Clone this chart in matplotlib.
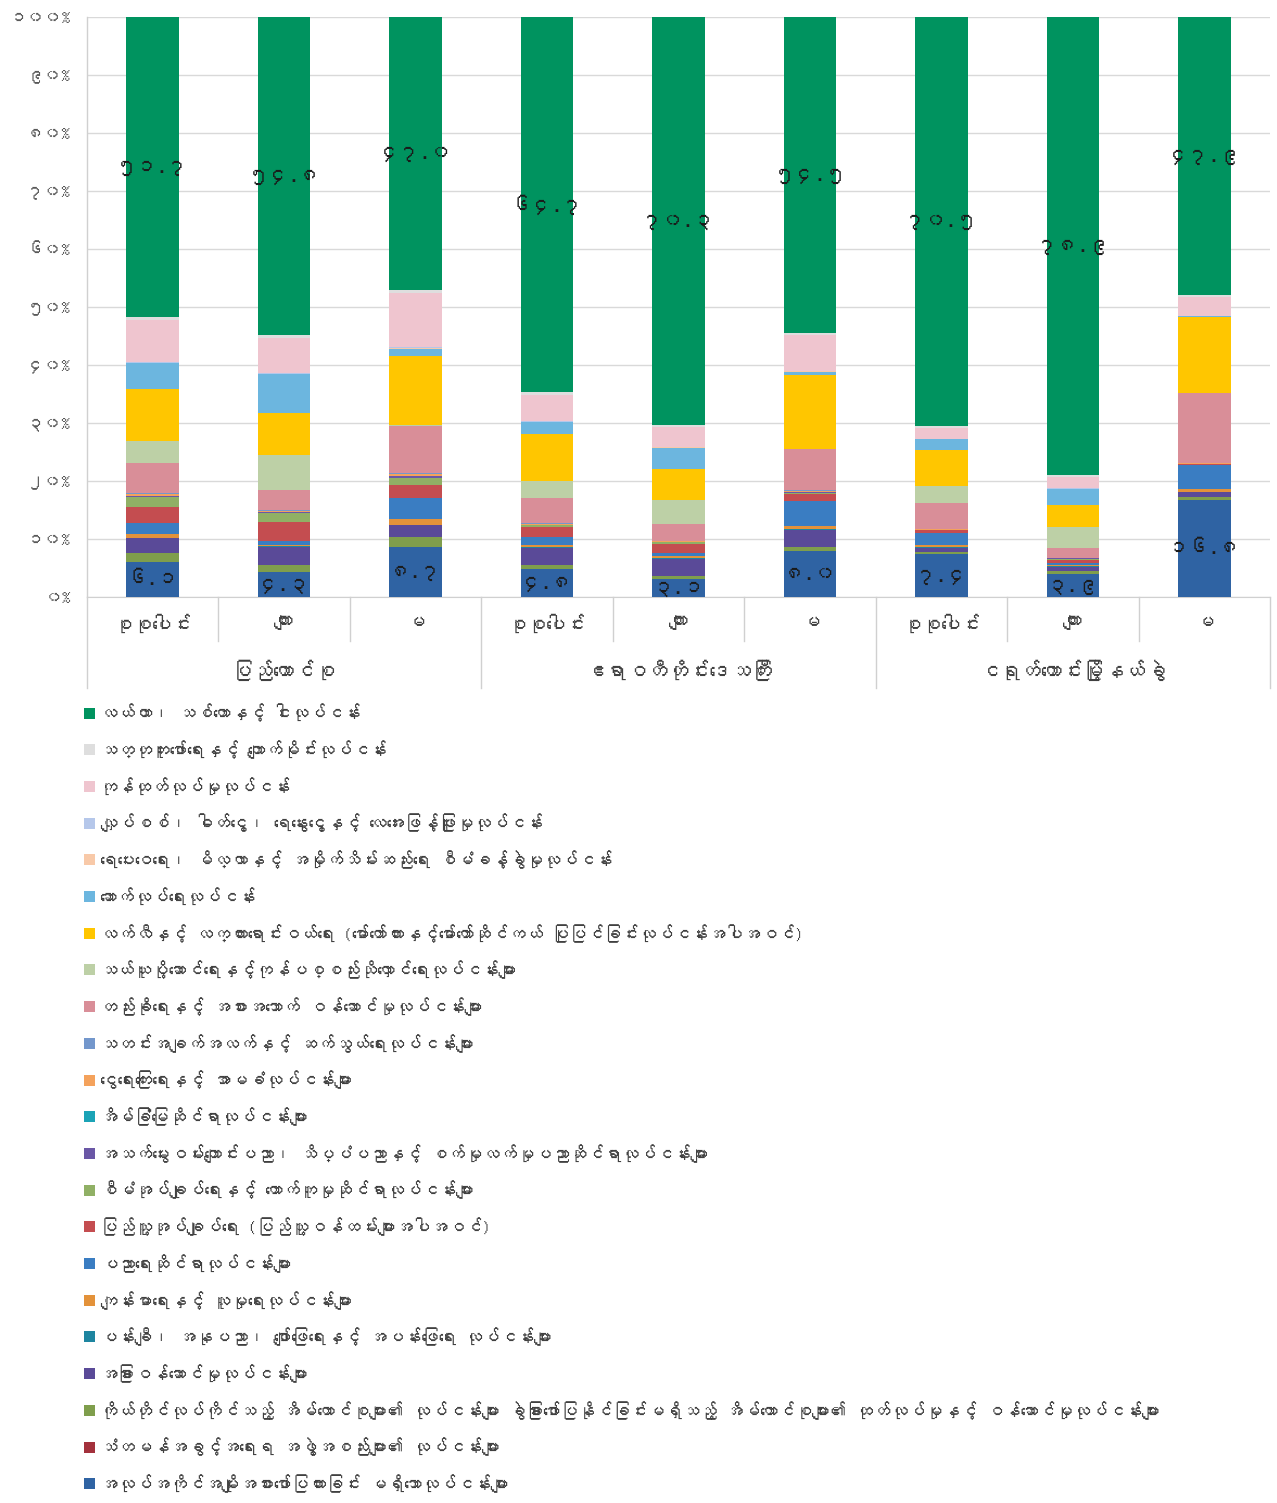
"""Employment by industry (100% stacked bars), Union / Ayeyarwady / Ngayokekaung.

Produces out.png.
"""

import matplotlib
matplotlib.use("Agg")
import matplotlib.pyplot as plt
from matplotlib import font_manager
from matplotlib.ft2font import FT2Font
from matplotlib.patches import Rectangle
import matplotlib.transforms as mtransforms

# x categories (level 1) and groups (level 2)
categories = ["စုစုပေါင်း", "ကျား", "မ"] * 3
groups = ["ပြည်ထောင်စု", "ဧရာဝတီတိုင်းဒေသကြီး", "ငရုတ်ကောင်းမြို့နယ်ခွဲ"]

# series values in percent, bottom of the stack first
not_stated = [6.1, 4.3, 8.7, 4.8, 3.1, 8.0, 7.4, 3.9, 16.8]
diplomatic = [0.0, 0.0, 0.0, 0.0, 0.0, 0.0, 0.0, 0.0, 0.0]
household = [1.5, 1.3, 1.6, 0.7, 0.6, 0.7, 0.4, 0.5, 0.5]
other_services = [2.5, 3.0, 2.1, 3.0, 2.9, 2.9, 0.7, 0.8, 0.8]
arts = [0.1, 0.2, 0.1, 0.1, 0.2, 0.1, 0.1, 0.1, 0.0]
health = [0.6, 0.2, 0.9, 0.3, 0.2, 0.6, 0.3, 0.2, 0.5]
education = [2.0, 0.7, 3.7, 1.5, 0.6, 4.2, 2.2, 0.4, 4.2]
public_admin = [2.8, 3.2, 2.2, 1.7, 1.5, 1.3, 0.4, 0.5, 0.1]
admin_support = [1.6, 1.5, 1.3, 0.3, 0.3, 0.2, 0.1, 0.2, 0.1]
professional = [0.2, 0.2, 0.2, 0.1, 0.1, 0.1, 0.0, 0.1, 0.0]
real_estate = [0.0, 0.0, 0.0, 0.0, 0.0, 0.0, 0.0, 0.0, 0.0]
finance = [0.3, 0.2, 0.4, 0.1, 0.1, 0.2, 0.1, 0.0, 0.1]
ict = [0.2, 0.2, 0.2, 0.1, 0.1, 0.1, 0.0, 0.0, 0.0]
accommodation = [5.2, 3.5, 8.0, 4.3, 2.9, 7.1, 4.5, 1.7, 12.1]
transport = [3.8, 6.0, 0.3, 3.0, 4.2, 0.1, 2.9, 3.7, 0.0]
retail = [9.0, 7.3, 11.9, 8.1, 5.3, 12.7, 6.2, 3.8, 13.1]
construction = [4.4, 6.6, 1.2, 2.0, 3.6, 0.5, 1.9, 2.8, 0.1]
water = [0.1, 0.1, 0.1, 0.1, 0.1, 0.1, 0.0, 0.0, 0.0]
electricity = [0.2, 0.2, 0.2, 0.1, 0.1, 0.1, 0.1, 0.1, 0.1]
manufacturing = [7.2, 6.0, 9.4, 4.6, 3.4, 6.1, 1.8, 1.9, 3.2]
mining = [0.5, 0.5, 0.5, 0.4, 0.4, 0.4, 0.4, 0.4, 0.4]
agriculture = [51.7, 54.8, 47.0, 64.7, 70.3, 54.5, 70.5, 78.9, 47.9]

# legend names, same order as the stack (bottom first)
series_names = [
    "အလုပ်အကိုင်အမျိုးအစားဖော်ပြထားခြင်း မရှိသောလုပ်ငန်းများ",
    "သံတမန်အခွင့်အရေးရ အဖွဲ့အစည်းများ၏ လုပ်ငန်းများ",
    "ကိုယ်တိုင်လုပ်ကိုင်သည့် အိမ်ထောင်စုများ၏ လုပ်ငန်းများ ခွဲခြားဖော်ပြနိုင်ခြင်းမရှိသည့် အိမ်ထောင်စုများ၏ ထုတ်လုပ်မှုနှင့် ဝန်ဆောင်မှုလုပ်ငန်းများ",
    "အခြားဝန်ဆောင်မှုလုပ်ငန်းများ",
    "ပန်းချီ၊ အနုပညာ၊ ဖျော်ဖြေရေးနှင့် အပန်းဖြေရေး လုပ်ငန်းများ",
    "ကျန်းမာရေးနှင့် လူမှုရေးလုပ်ငန်းများ",
    "ပညာရေးဆိုင်ရာလုပ်ငန်းများ",
    "ပြည်သူ့အုပ်ချုပ်ရေး (ပြည်သူ့ဝန်ထမ်းများအပါအဝင်)",
    "စီမံအုပ်ချုပ်ရေးနှင့် ထောက်ကူမှုဆိုင်ရာလုပ်ငန်းများ",
    "အသက်မွေးဝမ်းကျောင်းပညာ၊ သိပ္ပံပညာနှင့် စက်မှုလက်မှုပညာဆိုင်ရာလုပ်ငန်းများ",
    "အိမ်ခြံမြေဆိုင်ရာလုပ်ငန်းများ",
    "ငွေရေးကြေးရေးနှင့် အာမခံလုပ်ငန်းများ",
    "သတင်းအချက်အလက်နှင့် ဆက်သွယ်ရေးလုပ်ငန်းများ",
    "တည်းခိုရေးနှင့် အစားအသောက် ဝန်ဆောင်မှုလုပ်ငန်းများ",
    "သယ်ယူပို့ဆောင်ရေးနှင့်ကုန်ပစ္စည်းသိုလှောင်ရေးလုပ်ငန်းများ",
    "လက်လီနှင့် လက္ကားရောင်းဝယ်ရေး (မော်တော်ကားနှင့်မော်တော်ဆိုင်ကယ် ပြုပြင်ခြင်းလုပ်ငန်းအပါအဝင်)",
    "ဆောက်လုပ်ရေးလုပ်ငန်း",
    "ရေပေးဝေရေး၊ မိလ္လာနှင့် အမှိုက်သိမ်းဆည်းရေး စီမံခန့်ခွဲမှုလုပ်ငန်း",
    "လျှပ်စစ်၊ ဓါတ်ငွေ့၊ ရေနွေးငွေ့နှင့် လေအေးဖြန့်ဖြူးမှုလုပ်ငန်း",
    "ကုန်ထုတ်လုပ်မှုလုပ်ငန်း",
    "သတ္တုတူးဖော်ရေးနှင့် ကျောက်မိုင်းလုပ်ငန်း",
    "လယ်ယာ၊ သစ်တောနှင့် ငါးလုပ်ငန်း",
]

colors = [
    "#2f63a3", "#a3313c", "#7f9e4c", "#5a4a98", "#1e85a0", "#e3923a",
    "#3a7dc2", "#c44d50", "#90b065", "#6a57a6", "#1ba3b6", "#f4a25c",
    "#7397cc", "#d98e98", "#bdd0a6", "#ffc600", "#6cb6df", "#f8c9a8",
    "#b5c7ea", "#efc5cf", "#dedede", "#00935f",
]

series = [
    not_stated, diplomatic, household, other_services, arts, health,
    education, public_admin, admin_support, professional, real_estate,
    finance, ict, accommodation, transport, retail, construction, water,
    electricity, manufacturing, mining, agriculture,
]

MM_DIGITS = str.maketrans("0123456789", "၀၁၂၃၄၅၆၇၈၉")


def mm(s):
    return s.translate(MM_DIGITS)


def find_myanmar_family():
    # look for any installed font that carries the Myanmar block
    paths = {f.fname for f in font_manager.fontManager.ttflist}
    paths.update(font_manager.findSystemFonts())
    hits = []
    for path in sorted(paths):
        try:
            cmap = FT2Font(path).get_charmap()
        except Exception:
            continue
        if 0x1000 in cmap and 0x1031 in cmap and 0x1041 in cmap:
            try:
                font_manager.fontManager.addfont(path)
                name = font_manager.FontProperties(fname=path).get_name()
            except Exception:
                continue
            hits.append(name)
    return hits[0] if hits else None


def main():
    mm_family = find_myanmar_family()
    fams = ([mm_family] if mm_family else []) + ["DejaVu Sans"]
    plt.rcParams["font.family"] = fams

    W, H = 1277, 1503
    fig = plt.figure(figsize=(W / 100, H / 100), dpi=100)
    ax = fig.add_axes([87 / W, 1 - 597 / H, (1270 - 87) / W, 580 / H])

    x = list(range(len(categories)))
    bottom = [0.0] * len(x)
    bars = []
    for vals, col in zip(series, colors):
        b = ax.bar(x, vals, width=0.4, bottom=bottom, color=col, zorder=3)
        bars.append(b)
        bottom = [bo + v for bo, v in zip(bottom, vals)]

    # value labels on the bottom (not stated) and top (agriculture) segments
    for bset, vals in ((bars[0], not_stated), (bars[-1], agriculture)):
        for rect, v in zip(bset, vals):
            cy = rect.get_y() + rect.get_height() / 2
            ax.text(rect.get_x() + rect.get_width() / 2, cy, mm(f"{v:.1f}"),
                    ha="center", va="center", fontsize=15, color="#1a1a1a",
                    zorder=4)

    ax.set_xlim(-0.5, len(x) - 0.5)
    ax.set_ylim(0, 100)
    ax.set_yticks(range(0, 101, 10))
    ax.set_yticklabels([mm(f"{t}%") for t in range(0, 101, 10)],
                       fontsize=12.5, color="#595959")
    ax.tick_params(axis="y", length=0, pad=12)
    ax.set_xticks(x)
    ax.set_xticklabels(categories, fontsize=14, color="#404040")
    ax.tick_params(axis="x", length=0, pad=12)
    ax.grid(axis="y", color="#d9d9d9", lw=1, zorder=0)
    for side in ("top", "right", "left"):
        ax.spines[side].set_visible(False)
    ax.spines["bottom"].set_color("#d0d0d0")

    # multi-level category axis dividers and group labels
    trans = mtransforms.blended_transform_factory(ax.transData, ax.transAxes)
    ax.plot([-0.5, -0.5], [1, 0], color="#d0d0d0", lw=1, transform=trans,
            clip_on=False)
    for i in range(len(x) + 1):
        xb = i - 0.5
        y_end = -0.157 if i % 3 == 0 else -0.076
        ax.plot([xb, xb], [0, y_end], color="#d0d0d0", lw=1, transform=trans,
                clip_on=False)
    for g, name in enumerate(groups):
        ax.text(3 * g + 1, -0.126, name, transform=trans, ha="center",
                va="center", fontsize=15, color="#404040")

    # legend, listed from the top of the stack down
    row0, step = 713, 36.7
    for k, idx in enumerate(range(len(series) - 1, -1, -1)):
        yc = row0 + k * step
        fig.patches.append(Rectangle((84 / W, 1 - (yc + 5.5) / H), 11 / W,
                                     11 / H, transform=fig.transFigure,
                                     facecolor=colors[idx], edgecolor="none"))
        fig.text(100 / W, 1 - yc / H, series_names[idx], ha="left",
                 va="center", fontsize=12.5, color="#404040")

    fig.savefig("out.png", dpi=100)


if __name__ == "__main__":
    main()
